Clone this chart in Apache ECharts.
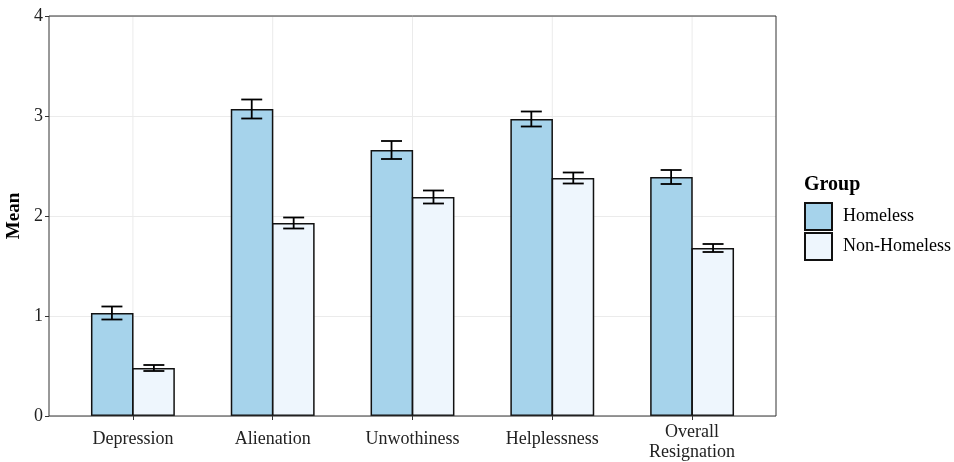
<!DOCTYPE html>
<html>
<head>
<meta charset="utf-8">
<script src="https://cdn.jsdelivr.net/npm/echarts@6/dist/echarts.min.js"></script>
<style>html,body{margin:0;padding:0;background:#fff}#c{width:954px;height:462px}</style>
</head>
<body>
<div id="c"></div>
<script>
const categories = ['Depression', 'Alienation', 'Unwothiness', 'Helplessness', 'Overall\nResignation'];
const groups = ['Homeless', 'Non-Homeless'];
const homeless = [1.03, 3.07, 2.66, 2.97, 2.39];
const homelessSE = [0.065, 0.095, 0.09, 0.075, 0.07];
const nonHomeless = [0.48, 1.93, 2.19, 2.38, 1.68];
const nonHomelessSE = [0.03, 0.055, 0.065, 0.055, 0.04];
const yTicks = [0, 1, 2, 3, 4];

const colors = ['#a6d3eb', '#eef6fd'];
const FONT = '"Liberation Serif", "DejaVu Serif", serif';

const errData = [];
categories.forEach((c, i) => {
  errData.push([i, homeless[i], homelessSE[i], 0]);
  errData.push([i, nonHomeless[i], nonHomelessSE[i], 1]);
});

const chart = echarts.init(document.getElementById('c'), null, {renderer: 'canvas'});
const option = {
  animation: false,
  textStyle: {fontFamily: FONT},
  grid: [
    {left: 49, right: 178, top: 16, bottom: 46, outerBoundsMode: 'none', containLabel: false,
     show: true, borderColor: '#333', borderWidth: 1, backgroundColor: 'transparent', z: 3},
    {left: 63, right: 192, top: 16, bottom: 46, outerBoundsMode: 'none', containLabel: false}
  ],
  xAxis: [
    {type: 'value', gridIndex: 0, show: false, min: 0, max: 1},
    {type: 'category', gridIndex: 1, data: categories,
     axisLine: {show: false},
     axisTick: {show: true, alignWithLabel: true, length: 4, lineStyle: {color: '#333', width: 1}},
     splitLine: {show: false},
     axisLabel: {color: '#222', fontFamily: FONT, fontSize: 18, margin: 23, lineHeight: 21,
                 verticalAlign: 'middle', interval: 0,
                 formatter: v => {
                   const parts = v.split('\n');
                   if (parts.length === 1) return v;
                   return '{p|' + parts[0] + '}\n{q|' + parts.slice(1).join(' ') + '}';
                 },
                 rich: {
                   p: {fontSize: 18, lineHeight: 26, verticalAlign: 'bottom', fontFamily: FONT, color: '#222'},
                   q: {fontSize: 18, lineHeight: 21, fontFamily: FONT, color: '#222'}
                 }}}
  ],
  yAxis: [
    {type: 'value', gridIndex: 0, min: 0, max: 4, interval: 1,
     name: 'Mean', nameLocation: 'middle', nameGap: 17, nameRotate: 90,
     nameTextStyle: {fontFamily: FONT, fontSize: 19, fontWeight: 'bold', color: '#000'},
     axisLine: {show: false},
     axisTick: {show: true, length: 4, lineStyle: {color: '#333'}},
     axisLabel: {color: '#222', fontFamily: FONT, fontSize: 18, margin: 6,
                 formatter: v => yTicks.includes(v) ? String(v) : ''},
     splitLine: {show: true, lineStyle: {color: '#ebebeb', width: 1}}},
    {type: 'value', gridIndex: 1, min: 0, max: 4, show: false}
  ],
  legend: {
    data: groups,
    orient: 'vertical', left: 804, top: 202, padding: 0,
    itemWidth: 27, itemHeight: 27, itemGap: 1,
    icon: 'rect',
    textStyle: {fontFamily: FONT, fontSize: 18, color: '#000', padding: [0, 0, 0, 6]}
  },
  graphic: [
    {type: 'text', left: 804, top: 175, style: {text: 'Group', font: 'bold 20px "Liberation Serif"', fill: '#000'}}
  ],
  series: [
    {type: 'custom', xAxisIndex: 1, yAxisIndex: 1, z: 1, silent: true,
     data: categories.map((c, i) => [i]),
     renderItem: (params, api) => {
       const p0 = api.coord([api.value(0), 0]);
       const p1 = api.coord([api.value(0), 4]);
       return {type: 'line', shape: {x1: p0[0], y1: p0[1], x2: p1[0], y2: p1[1]},
               style: {stroke: '#ebebeb', lineWidth: 1}};
     }},
    {name: groups[0], type: 'bar', xAxisIndex: 1, yAxisIndex: 1, data: homeless,
     barGap: '-3%', barCategoryGap: '40%', z: 2,
     itemStyle: {color: colors[0], borderColor: '#111', borderWidth: 1.5}},
    {name: groups[1], type: 'bar', xAxisIndex: 1, yAxisIndex: 1, data: nonHomeless,
     barGap: '-3%', barCategoryGap: '40%', z: 2,
     itemStyle: {color: colors[1], borderColor: '#111', borderWidth: 1.5}},
    {type: 'custom', xAxisIndex: 1, yAxisIndex: 1, z: 4, silent: true,
     data: errData,
     renderItem: (params, api) => {
       const idx = api.value(0), m = api.value(1), se = api.value(2), g = api.value(3);
       const band = api.size([1, 0])[0];
       const off = (g === 0 ? -0.15 : 0.15) * band;
       const top = api.coord([idx, m + se]);
       const bot = api.coord([idx, m - se]);
       const x = top[0] + off;
       const hw = 0.075 * band;
       const st = {stroke: '#000', lineWidth: 1.8};
       return {type: 'group', children: [
         {type: 'line', shape: {x1: x, y1: top[1], x2: x, y2: bot[1]}, style: st},
         {type: 'line', shape: {x1: x - hw, y1: top[1], x2: x + hw, y2: top[1]}, style: st},
         {type: 'line', shape: {x1: x - hw, y1: bot[1], x2: x + hw, y2: bot[1]}, style: st}
       ]};
     }}
  ]
};
chart.setOption(option);
</script>
</body>
</html>
